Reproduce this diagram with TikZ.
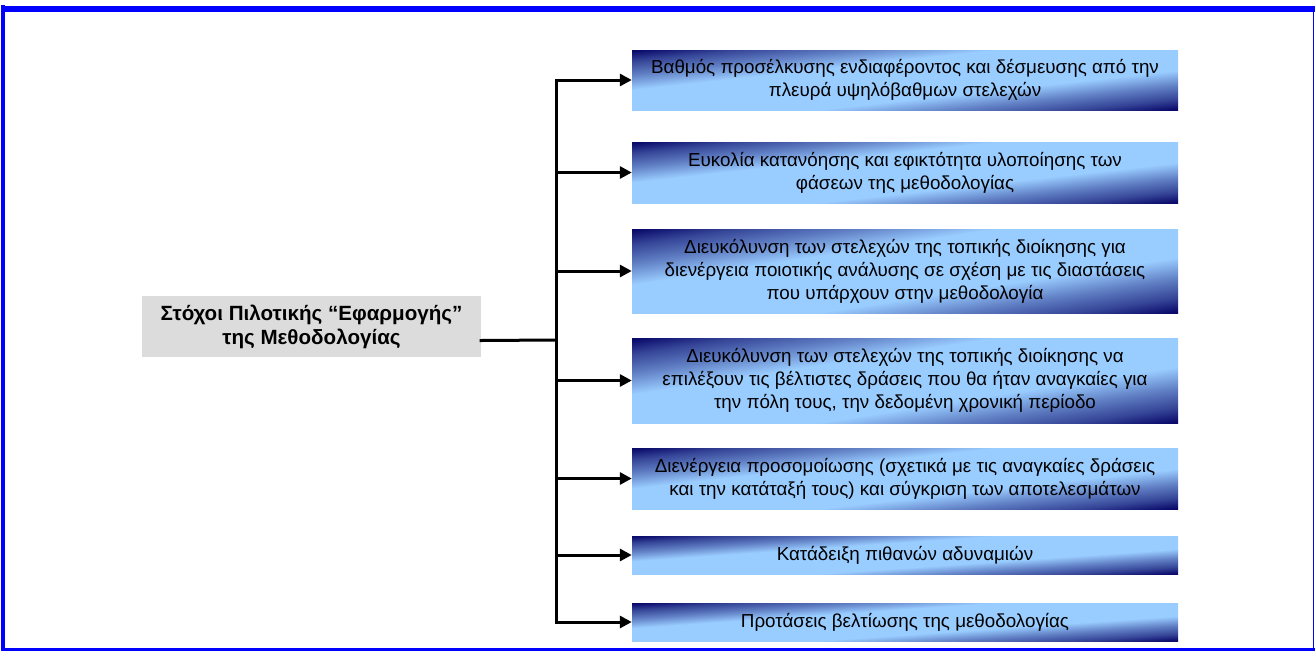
\documentclass[tikz,border=0pt]{standalone}
\usepackage{fontspec}
\setmainfont{Liberation Sans}
\usetikzlibrary{arrows.meta,calc,backgrounds}

\definecolor{navyd}{HTML}{0A0A6A}
\definecolor{skyb}{HTML}{99CCFF}
\definecolor{marble}{HTML}{DCDCDC}
\definecolor{frameblue}{HTML}{0000FF}

\pgfdeclarehorizontalshading{boxgrad}{100bp}{color(0bp)=(navyd); color(15bp)=(navyd); color(21bp)=(navyd!70!skyb); color(29bp)=(navyd!40!skyb); color(38bp)=(skyb); color(62bp)=(skyb); color(71bp)=(navyd!40!skyb); color(79bp)=(navyd!70!skyb); color(85bp)=(navyd); color(100bp)=(navyd)}

\tikzset{
  goalbox/.style={fill=marble, minimum width=339pt, minimum height=61pt,
    align=center, font=\bfseries\fontsize{20.6}{24}\selectfont, inner sep=0pt},
  aimbox/.style={minimum width=546pt,
    align=center, font=\fontsize{18.8}{23}\selectfont, inner sep=0pt},
  aimshade/.style={shading=boxgrad, shading angle=-45},
  link/.style={line width=3pt, line cap=rect},
  arr/.style={line width=3pt, -{Triangle[length=12pt,width=12pt]}},
}

\begin{document}
\begin{tikzpicture}[x=1pt,y=-1pt]
\useasboundingbox (0,0) rectangle (1315,651);
% frame
\fill[frameblue] (2,6) rectangle (1315,12);
\fill[frameblue] (1,5) rectangle (5,651);
\fill[frameblue] (1,648) rectangle (1315,651);
\fill[frameblue] (1312.5,6) rectangle (1314,651);

% goal
\node[goalbox] (goal) at (311.5,326.5) {Στόχοι Πιλοτικής “Εφαρμογής”\\της Μεθοδολογίας};
\coordinate (trunk) at (556,340);

% aims
\foreach \y/\h/\txt [count=\i] in {
  80/60/{Βαθμός προσέλκυσης ενδιαφέροντος και δέσμευσης από την\\πλευρά υψηλόβαθμων στελεχών},
  172.5/61/{Ευκολία κατανόησης και εφικτότητα υλοποίησης των\\φάσεων της μεθοδολογίας},
  271/84/{Διευκόλυνση των στελεχών της τοπικής διοίκησης για\\διενέργεια ποιοτικής ανάλυσης σε σχέση με τις διαστάσεις\\που υπάρχουν στην μεθοδολογία},
  380.5/85/{Διευκόλυνση των στελεχών της τοπικής διοίκησης να\\επιλέξουν τις βέλτιστες δράσεις που θα ήταν αναγκαίες για\\την πόλη τους, την δεδομένη χρονική περίοδο},
  478.5/61/{Διενέργεια προσομοίωσης (σχετικά με τις αναγκαίες δράσεις\\και την κατάταξή τους) και σύγκριση των αποτελεσμάτων},
  555/38/{Κατάδειξη πιθανών αδυναμιών},
  622/38/{Προτάσεις βελτίωσης της μεθοδολογίας}} {
  \node[aimbox, minimum height=\h pt] (b\i) at (905,\y) {\txt};
  \begin{pgfonlayer}{background}
    \shade[aimshade, transform canvas={shift={(b\i.center)}, xscale=546/\h}]
      (-\h/2,-\h/2) rectangle (\h/2,\h/2);
  \end{pgfonlayer}
  \draw[arr] (trunk |- b\i.west) -- (b\i.west);
}

\draw[link] (trunk |- b1.west) -- (trunk |- b7.west);
\draw[link] ([yshift=-14pt]goal.east) -- (trunk);
\end{tikzpicture}
\end{document}
